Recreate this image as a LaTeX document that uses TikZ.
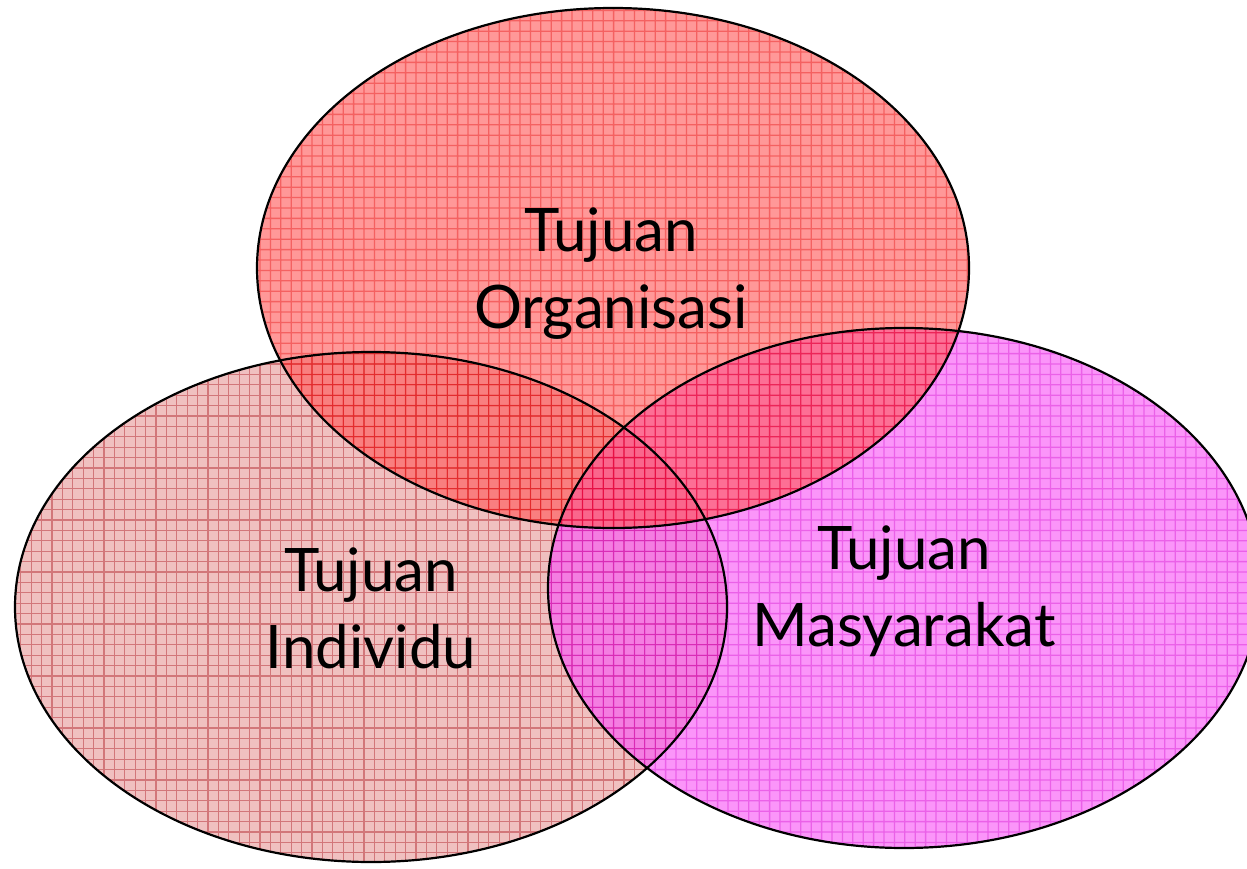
\documentclass[tikz,border=0pt]{standalone}
\usepackage{fontspec}
\setmainfont{Lato}

% cell fill and grid line colours of the three circles
\definecolor{indbase}{RGB}{240,192,192}
\definecolor{indline}{RGB}{210,118,122}
\definecolor{orgbase}{RGB}{255,88,88}
\definecolor{orgline}{RGB}{238,0,0}
\definecolor{masbase}{RGB}{248,84,246}
\definecolor{masline}{RGB}{222,0,218}

\begin{document}
\begin{tikzpicture}[x=1pt,y=-1pt,
  outline/.style={draw=black, line width=2.2pt},
  gridline/.style={line width=1.3pt},
  layer/.style={transparency group, opacity=0.62},
  goal/.style={font=\fontsize{60}{77}\selectfont, align=center, text=black, inner sep=0pt}]
\useasboundingbox (0,0) rectangle (1247,869);

% Individu: opaque textured fill
\begin{scope}
  \clip (371,607) ellipse [x radius=356pt, y radius=255pt];
  \fill[indbase] (0,340) rectangle (740,870);
  \draw[gridline, indline, step=10.4pt] (0,340) grid (740,870);
\end{scope}

% Masyarakat: translucent textured layer
\begin{scope}[layer]
  \clip (904,588) ellipse [x radius=356pt, y radius=260pt];
  \fill[masbase] (540,320) rectangle (1270,860);
  \draw[gridline, masline, step=10.4pt] (540,320) grid (1270,860);
\end{scope}

% Organisasi: translucent textured layer
\begin{scope}[layer]
  \clip (613,268) ellipse [x radius=356pt, y radius=260pt];
  \fill[orgbase] (250,0) rectangle (980,540);
  \draw[gridline, orgline, step=10.4pt] (250,0) grid (980,540);
\end{scope}

% outlines
\path[outline] (371,607) ellipse [x radius=356pt, y radius=255pt];
\path[outline] (613,268) ellipse [x radius=356pt, y radius=260pt];
\path[outline] (904,588) ellipse [x radius=356pt, y radius=260pt];

% labels
\node[goal] (org) at (611,274) {Tujuan\\Organisasi};
\node[goal] (ind) at (371,608) {Tujuan\\Individu};
\node[goal] (mas) at (904,591) {Tujuan\\Masyarakat};
\end{tikzpicture}
\end{document}
